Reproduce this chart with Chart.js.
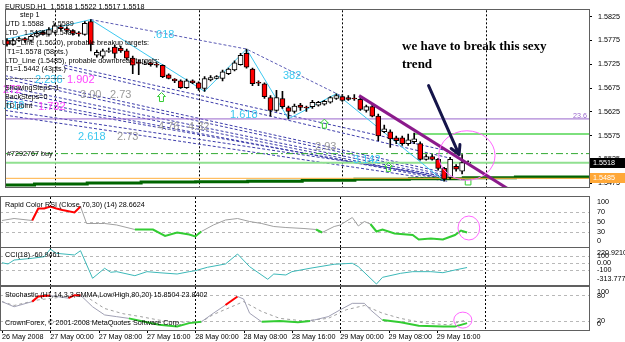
<!DOCTYPE html>
<html>
<head>
<meta charset="utf-8">
<script src="https://cdn.jsdelivr.net/npm/chart.js@4.4.1/dist/chart.umd.min.js"></script>
<style>
  html, body { margin: 0; padding: 0; background: #fff; }
  #wrap { position: relative; width: 625px; height: 342px; overflow: hidden; background: #fff; }
  #wrap canvas { position: absolute; left: 0; }
</style>
</head>
<body>
<div id="wrap">
  <canvas id="main" width="625" height="198" style="top:0px"></canvas>
  <canvas id="rsi" width="625" height="52" style="top:196px"></canvas>
  <canvas id="cci" width="625" height="39" style="top:247px"></canvas>
  <canvas id="sto" width="625" height="56" style="top:286px"></canvas>
</div>
<script>
const FAMILY = '"Liberation Sans", Arial, sans-serif';
const FONT = '7.2px ' + FAMILY;
const X_MIN = -0.33, X_MAX = 97.19;

// EURUSD H1 bars, 26 May 16:00 .. 29 May 21:00
const opens = [1.5775,1.5767,1.5775,1.5779,1.5775,1.5784,1.5792,1.5788,1.5792,1.5804,
  1.5800,1.5796,1.5790,1.5788,1.5815,1.5744,1.5742,1.5753,1.5761,1.5759,
  1.5753,1.5738,1.5728,1.5726,1.5728,1.5724,1.5723,1.5703,1.5694,1.5690,
  1.5676,1.5690,1.5686,1.5674,1.5692,1.5695,1.5695,1.5705,1.5713,1.5724,
  1.5748,1.5715,1.5686,1.5684,1.5655,1.5628,1.5653,1.5634,1.5626,1.5639,
  1.5634,1.5636,1.5639,1.5641,1.5645,1.5653,1.5657,1.5655,1.5653,1.5651,
  1.5628,1.5636,1.5616,1.5583,1.5583,1.5570,1.5570,1.5558,1.5562,1.5558,
  1.5525,1.5531,1.5525,1.5506,1.5487,1.5510,1.5500,1.5518];
const highs = [1.5779,1.5779,1.5782,1.5781,1.5786,1.5794,1.5796,1.5802,1.5810,1.5808,
  1.5804,1.5798,1.5794,1.5815,1.5819,1.5755,1.5757,1.5759,1.5765,1.5763,
  1.5757,1.5742,1.5734,1.5732,1.5730,1.5728,1.5724,1.5705,1.5695,1.5692,
  1.5694,1.5692,1.5688,1.5699,1.5701,1.5701,1.5713,1.5717,1.5732,1.5748,
  1.5757,1.5717,1.5690,1.5686,1.5659,1.5670,1.5668,1.5637,1.5641,1.5643,
  1.5637,1.5649,1.5647,1.5649,1.5657,1.5663,1.5661,1.5659,1.5661,1.5655,
  1.5639,1.5639,1.5620,1.5597,1.5587,1.5574,1.5574,1.5578,1.5580,1.5562,
  1.5535,1.5535,1.5527,1.5508,1.5529,1.5514,1.5535,1.5522];
const lows = [1.5763,1.5765,1.5773,1.5771,1.5773,1.5782,1.5786,1.5786,1.5790,1.5796,
  1.5792,1.5786,1.5784,1.5786,1.5753,1.5740,1.5738,1.5750,1.5738,1.5750,
  1.5734,1.5705,1.5703,1.5724,1.5721,1.5719,1.5697,1.5694,1.5686,1.5674,
  1.5674,1.5684,1.5670,1.5668,1.5690,1.5694,1.5690,1.5703,1.5711,1.5723,
  1.5717,1.5680,1.5680,1.5653,1.5616,1.5626,1.5632,1.5610,1.5622,1.5628,
  1.5626,1.5632,1.5637,1.5639,1.5643,1.5651,1.5647,1.5649,1.5649,1.5628,
  1.5624,1.5614,1.5564,1.5581,1.5550,1.5558,1.5554,1.5554,1.5558,1.5523,
  1.5523,1.5523,1.5502,1.5479,1.5483,1.5500,1.5494,1.5517];
const closes = [1.5767,1.5775,1.5779,1.5775,1.5784,1.5790,1.5788,1.5798,1.5806,1.5800,
  1.5796,1.5790,1.5788,1.5811,1.5767,1.5750,1.5753,1.5755,1.5748,1.5753,
  1.5738,1.5723,1.5726,1.5728,1.5724,1.5723,1.5699,1.5695,1.5690,1.5676,
  1.5690,1.5686,1.5674,1.5695,1.5697,1.5699,1.5709,1.5715,1.5728,1.5744,
  1.5719,1.5684,1.5684,1.5657,1.5628,1.5655,1.5636,1.5626,1.5637,1.5634,
  1.5632,1.5645,1.5645,1.5647,1.5655,1.5659,1.5649,1.5651,1.5651,1.5630,
  1.5636,1.5616,1.5574,1.5589,1.5568,1.5564,1.5558,1.5566,1.5568,1.5525,
  1.5531,1.5525,1.5506,1.5483,1.5525,1.5504,1.5518,1.5518];

const priceTicks = [1.5825, 1.5775, 1.5725, 1.5675, 1.5625, 1.5575, 1.5525, 1.5475];

// zigzag and drawn objects, in (bar, price)
const zigBars   = [-1, 14, 33, 40, 47, 55, 73];
const zigPrices = [1.5775, 1.5819, 1.5668, 1.5757, 1.5610, 1.5663, 1.5479];
const trendBars   = [58.8, 85.8];
const trendPrices = [1.5659, 1.5446];
const fanFromBar = -0.33, fanToBar = 73.5;
const fanFrom = [1.5701, 1.5694, 1.5678, 1.5670, 1.5657, 1.5649, 1.5628, 1.5618];
const fanTo   = [1.5496, 1.5491, 1.5487, 1.5483, 1.5481, 1.5485, 1.5489, 1.5479];
const fan2FromBar = 9.6;
const fan2From = [1.5723, 1.5717];
const fan2To   = [1.5543, 1.5529];
const stepBars   = [14, 40, 57];
const stepPrices = [1.5819, 1.5757, 1.5651];
const levelPrices = [1.5610, 1.5578, 1.5537, 1.5518, 1.5485];
const levelFrom   = [-1, 67.9, -1, -1, -1];
const supBars   = [-1, 4.6, 13.4, 22.4, 31.5, 40.2, 49.3, 58.1, 67.2, 76.2, 84.9, 100];
const supPrices = [1.5471, 1.5473, 1.5475, 1.5477, 1.5478, 1.5479, 1.5481, 1.5483, 1.5484, 1.5486, 1.5488, 1.5488];
const upArrowBars   = [25.8, 53, 63.7];
const upArrowPrices = [1.5655, 1.5599, 1.5508];
const markBars = [77], markPrices = [1.5477];
const arrowFrom = [70.4, 1.5680], arrowTo = [75.5, 1.5535];
const ringMain = [76.8, 1.5533, 4.7, 0.0052];

// indicators
const rsiBars = [0,2,5,6,7,8,9,10,12,13,14,16,17,19,22,25,27,29,31,32,33,35,37,39,41,43,45,47,50,52,53,55,56,58,59,60,61,62,63,65,68,69,71,73,75,76,77];
const rsiValues = [53,57,53,77,77,81,77,74,69,81,47,47,47,44,35,35,22,29,25,21,31,44,54,57,51,47,41,39,37,35,29,41,44,59,42,51,46,31,35,27,24,15,17,15,24,33,29];
const cciBars = [0,1,2,5,7,8,9,12,13,15,17,18,19,22,24,26,29,31,32,34,37,39,41,44,45,47,48,51,55,58,59,62,63,66,68,71,73,75,77];
const cciValues = [8,-10,47,72,95,205,144,120,182,-217,-72,-130,-121,-179,-121,-136,-155,-121,-107,-58,-10,134,-49,-231,-155,-169,-121,-72,-14,0,-49,-300,-203,-145,-121,-121,-136,-97,-61];
const stoBars = [0,2,5,6,8,11,12,13,15,17,19,21,24,26,29,31,33,35,37,39,40,41,43,46,49,51,54,56,58,60,61,63,66,69,73,75,76,77];
const stoMain = [66,54,66,78,80,74,81,81,54,35,31,27,18,12,8,16,19,39,58,78,72,39,19,21,18,21,31,47,62,62,47,23,18,10,8,8,12,16];
const sigBars = [0,2,6,12,14,17,20,23,26,29,33,35,40,43,46,50,54,57,60,63,66,70,74,77];
const sigValues = [66,57,70,80,77,50,38,31,23,18,19,36,66,43,27,21,27,47,57,39,27,16,12,24];

const dateBars = [0, 8, 16, 24, 32, 40, 48, 56, 64, 72];
const dateLabels = ['26 May 2008', '27 May 00:00', '27 May 08:00', '27 May 16:00', '28 May 00:00',
  '28 May 08:00', '28 May 16:00', '29 May 00:00', '29 May 08:00', '29 May 16:00'];
const dayBars = [8, 32, 56, 80];

const pts = (bars, vals) => bars.map((b, i) => ({x: b, y: vals[i]}));
const line = (data, color, width, extra) => Object.assign(
  {type: 'line', data, borderColor: color, borderWidth: width, pointRadius: 0, fill: false, tension: 0}, extra || {});

// pane border, day separators and time ticks
const frame = {
  id: 'frame',
  beforeDatasetsDraw(chart) {
    const {ctx, chartArea: a, scales: {x}} = chart;
    ctx.save();
    ctx.strokeStyle = '#000';
    ctx.lineWidth = 1;
    ctx.setLineDash([2, 2]);
    ctx.beginPath();
    dayBars.forEach(b => {
      const px = Math.round(x.getPixelForValue(b)) + 0.5;
      ctx.moveTo(px, a.top);
      ctx.lineTo(px, a.bottom);
    });
    ctx.stroke();
    ctx.restore();
  },
  afterDraw(chart) {
    const {ctx, chartArea: a, scales: {x}} = chart;
    ctx.save();
    ctx.strokeStyle = '#606060';
    ctx.lineWidth = 1;
    ctx.strokeRect(Math.round(a.left) + 0.5, Math.round(a.top) - 0.5,
      Math.round(a.right - a.left), Math.round(a.bottom - a.top) + 1);
    if (x.options.ticks.display) {
      ctx.strokeStyle = '#000';
      ctx.beginPath();
      dateBars.forEach(b => {
        const px = Math.round(x.getPixelForValue(b)) + 0.5;
        ctx.moveTo(px, a.bottom + 1);
        ctx.lineTo(px, a.bottom + 3);
      });
      ctx.stroke();
    }
    ctx.restore();
  }
};

function xAxis(bottom) {
  return {
    type: 'linear', min: X_MIN, max: X_MAX, offset: false,
    afterBuildTicks: s => { s.ticks = (bottom ? dateBars : dayBars).map(v => ({value: v})); },
    afterFit: s => { s.height = bottom ? 12 : 0; },
    grid: {display: false, offset: false, drawTicks: bottom, tickLength: 2},
    border: {display: false},
    ticks: {
      display: bottom, autoSkip: false, maxRotation: 0, align: 'start', padding: 1,
      color: '#000', font: {family: FAMILY, size: 7.2},
      callback: v => { const k = dateBars.indexOf(v); return k < 0 ? '' : dateLabels[k]; }
    }
  };
}

function levelAxis(min, max, levels) {
  return {
    position: 'right', min, max,
    afterBuildTicks: s => { s.ticks = levels.map(v => ({value: v})); },
    afterFit: s => { s.width = 36; },
    grid: {color: '#b8b8b8', drawTicks: false},
    border: {display: false, dash: [3, 3]},
    ticks: {display: false}
  };
}

function txt(ctx, t, x, y, color, font, align) {
  ctx.font = font || FONT;
  ctx.fillStyle = color || '#000';
  ctx.textAlign = align || 'left';
  ctx.textBaseline = 'middle';
  ctx.fillText(t, x, y);
}

const mainDecor = {
  id: 'mainDecor',
  afterDatasetsDraw(chart) {
    const {ctx, chartArea: a, scales: {x, y}} = chart;
    const px = b => x.getPixelForValue(b), py = v => y.getPixelForValue(v);
    ctx.save();
    ctx.beginPath();
    ctx.rect(a.left, a.top, a.right - a.left, a.bottom - a.top);
    ctx.clip();

    // green up arrows
    ctx.strokeStyle = '#33cc33';
    ctx.lineWidth = 1;
    upArrowBars.forEach((b, k) => {
      const cx = px(b), cy = py(upArrowPrices[k]);
      ctx.beginPath();
      ctx.moveTo(cx, cy - 5); ctx.lineTo(cx + 4, cy - 1); ctx.lineTo(cx + 2, cy - 1);
      ctx.lineTo(cx + 2, cy + 4); ctx.lineTo(cx - 2, cy + 4); ctx.lineTo(cx - 2, cy - 1);
      ctx.lineTo(cx - 4, cy - 1); ctx.closePath();
      ctx.stroke();
    });

    // ring
    ctx.strokeStyle = '#ff66ff';
    ctx.beginPath();
    ctx.ellipse(px(ringMain[0]), py(ringMain[1]),
      px(ringMain[0] + ringMain[2]) - px(ringMain[0]),
      py(ringMain[1] - ringMain[3]) - py(ringMain[1]), 0, 0, Math.PI * 2);
    ctx.stroke();

    // arrow
    const p0 = [px(arrowFrom[0]), py(arrowFrom[1])], p1 = [px(arrowTo[0]), py(arrowTo[1])];
    const ang = Math.atan2(p1[1] - p0[1], p1[0] - p0[0]);
    ctx.strokeStyle = '#15154a';
    ctx.lineWidth = 3;
    ctx.lineCap = 'round';
    ctx.beginPath();
    ctx.moveTo(p0[0], p0[1]); ctx.lineTo(p1[0], p1[1]);
    [-1, 1].forEach(s => {
      ctx.moveTo(p1[0], p1[1]);
      ctx.lineTo(p1[0] - 10 * Math.cos(ang + s * 0.5), p1[1] - 10 * Math.sin(ang + s * 0.5));
    });
    ctx.stroke();
    ctx.restore();

    ctx.save();
    const cyan = '#3cc8f0', mag = '#ff44ff', grey = '#9a9a9a', big = '11px ' + FAMILY;
    [['.618', 153, 35], ['382', 283, 76], ['2.236', 35, 80], ['1.618', 230, 115],
     ['2.618', 78, 137], ['3.142', 353, 160], ['.618', 3, 106]].forEach(t => txt(ctx, t[0], t[1], t[2], cyan, big));
    [['1.902', 67, 80], ['1.732', 38, 107], ['272', 3, 90]].forEach(t => txt(ctx, t[0], t[1], t[2], mag, big));
    [['3.00', 80, 95], ['2.73', 110, 95], ['2.73', 117, 137], ['4.76', 158, 127], ['4.32', 188, 127],
     ['2.93', 315, 147]].forEach(t => txt(ctx, t[0], t[1], t[2], grey, big));
    [['EURUSD,H1  1.5518 1.5522 1.5517 1.5518', 5, 7], ['step 1', 20, 15],
     ['UTD 1.5588    1.5589', 5, 24], ['LTD   1.5484||  1.5485', 5, 33],
     ['UTD_Line (1.5620), probable breakup targets:', 2, 43], ['T1=1.5578 (58pts.)', 7, 52],
     ['LTD_Line (1.5485), probable downbreak targets:', 5, 61], ['T1=1.5442 (43pts.)', 5, 69],
     ['-------------------------', 5, 78], ['ShowingSteps=1', 5, 88], ['BackSteps=0', 5, 97],
     ['TD point', 5, 106], ['#7292767 buy', 7, 154]].forEach(t => txt(ctx, t[0], t[1], t[2], '#000'));
    txt(ctx, '23.6', 587, 116, '#9966cc', FONT, 'right');
    const serif = 'bold 13px "Liberation Serif", serif';
    txt(ctx, 'we have to break this sexy', 402, 47, '#000', serif);
    txt(ctx, 'trend', 402, 65, '#000', serif);
    ctx.restore();
  },
  afterDraw(chart) {
    const {ctx, chartArea: a, scales: {y}} = chart;
    ctx.save();
    [[1.5518, '#000000'], [1.5485, '#ffa838']].forEach(([v, bg]) => {
      const yy = Math.round(y.getPixelForValue(v));
      ctx.fillStyle = bg;
      ctx.fillRect(a.right + 1, yy - 5, 35, 10);
      txt(ctx, v.toFixed(4), a.right + 4, yy, '#fff');
    });
    ctx.restore();
  }
};

const panel = {
  id: 'panel',
  afterDraw(chart, args, opts) {
    const {ctx, chartArea: a, scales: {x, y}} = chart;
    ctx.save();
    (opts.labels || []).forEach(([v, t]) => {
      const yy = Math.min(Math.max(y.getPixelForValue(v), a.top + 5), a.bottom - 6);
      txt(ctx, t, a.right + 8, yy, '#000');
    });
    (opts.titles || []).forEach(([t, tx, ty]) => txt(ctx, t, tx, ty, '#000'));
    if (opts.ring) {
      const [b, v, rb, rv] = opts.ring;
      ctx.strokeStyle = '#ff66ff';
      ctx.lineWidth = 1;
      ctx.beginPath();
      ctx.ellipse(x.getPixelForValue(b), y.getPixelForValue(v),
        x.getPixelForValue(b + rb) - x.getPixelForValue(b),
        y.getPixelForValue(v - rv) - y.getPixelForValue(v), 0, 0, Math.PI * 2);
      ctx.stroke();
    }
    ctx.restore();
  }
};

const base = {
  responsive: false, animation: false, devicePixelRatio: 1,
  elements: {point: {radius: 0}}
};

// ---- main price chart ----
const mainSets = [
  line(pts(trendBars, trendPrices), '#8b1a8b', 3, {order: 0}),
  {type: 'bar', order: 1, grouped: false, barThickness: 5, borderSkipped: false,
   data: opens.map((o, i) => ({x: i, y: Math.abs(closes[i] - o) < 0.0002 ? [o - 0.0001, o + 0.0001] : [o, closes[i]]})),
   backgroundColor: opens.map((o, i) => closes[i] < o ? '#ff0000' : '#ffffff'),
   borderColor: '#000', borderWidth: 1},
  {type: 'bar', order: 2, grouped: false, barThickness: 1,
   data: opens.map((_, i) => ({x: i, y: [lows[i], highs[i]]})),
   backgroundColor: '#000', borderWidth: 0},
  line(pts(markBars, markPrices), '#33cc33', 1, {order: 1, showLine: false, pointRadius: 4,
    pointStyle: 'rect', pointBorderColor: '#33cc33', pointBackgroundColor: 'rgba(0,0,0,0)'}),
  line(pts(zigBars, zigPrices), '#3cc8f0', 1, {order: 3})
];
const levelStyles = [
  {color: '#9966cc', width: 1},
  {color: '#7de07d', width: 2},
  {color: '#33aa33', width: 1, dash: [7, 3, 2, 3]},
  {color: '#90e090', width: 2},
  {color: '#ffb040', width: 1}
];
levelPrices.forEach((v, k) => {
  const s = levelStyles[k];
  mainSets.push(line([{x: levelFrom[k], y: v}, {x: 100, y: v}], s.color, s.width,
    {order: 4, borderDash: s.dash || []}));
});
mainSets.push(line(pts(supBars, supPrices), '#006400', 3, {order: 4, stepped: true}));
fanFrom.forEach((v, k) => mainSets.push(line([{x: fanFromBar, y: v}, {x: fanToBar, y: fanTo[k]}],
  '#3c3caa', 1, {order: 5, borderDash: [3, 2]})));
fan2From.forEach((v, k) => mainSets.push(line([{x: fan2FromBar, y: v}, {x: fanToBar, y: fan2To[k]}],
  '#3c3caa', 1, {order: 5, borderDash: [3, 2]})));
mainSets.push(line(pts(stepBars, stepPrices), '#5a5ab4', 1, {order: 5, borderDash: [3, 2]}));

new Chart(document.getElementById('main'), {
  type: 'bar',
  data: {datasets: mainSets},
  options: Object.assign({}, base, {
    layout: {padding: {top: 3, bottom: 2, left: 0, right: 0}},
    plugins: {legend: {display: false}, tooltip: {enabled: false}},
    scales: {
      x: xAxis(false),
      y: {
        position: 'right', min: 1.54653, max: 1.58385,
        afterBuildTicks: s => { s.ticks = priceTicks.map(v => ({value: v})); },
        afterFit: s => { s.width = 36; },
        grid: {drawOnChartArea: false, drawTicks: true, tickLength: 3, tickColor: '#000'},
        border: {display: false},
        ticks: {color: '#000', font: {family: FAMILY, size: 7.2}, padding: 6, callback: v => v.toFixed(4)}
      }
    }
  }),
  plugins: [frame, mainDecor]
});

// ---- indicator panes ----
const rsiColor = c => {
  const a = c.p0.parsed.y, b = c.p1.parsed.y;
  if (b >= 68) return '#ff0000';
  if (Math.max(a, b) <= 36 || b <= 31) return '#33cc33';
  return '#a0a0a0';
};
new Chart(document.getElementById('rsi'), {
  type: 'line',
  data: {datasets: [line(pts(rsiBars, rsiValues), '#a0a0a0', 1, {
    segment: {borderColor: rsiColor, borderWidth: c => rsiColor(c) === '#a0a0a0' ? 1 : 2}})]},
  options: Object.assign({}, base, {
    layout: {padding: {top: 1, bottom: 1}},
    plugins: {legend: {display: false}, tooltip: {enabled: false},
      panel: {labels: [[100, '100'], [70, '70'], [50, '50'], [30, '30'], [0, '0']],
              titles: [['Rapid Color RSI (Close,70,30) (14) 28.6624', 5, 9]],
              ring: [77.3, 38, 1.8, 24]}},
    scales: {x: xAxis(false), y: levelAxis(0, 100, [70, 50, 30])}
  }),
  plugins: [frame, panel]
});

new Chart(document.getElementById('cci'), {
  type: 'line',
  data: {datasets: [line(pts(cciBars, cciValues), '#3cb8b8', 1)]},
  options: Object.assign({}, base, {
    layout: {padding: {top: 1, bottom: 1}},
    plugins: {legend: {display: false}, tooltip: {enabled: false},
      panel: {labels: [[220.921, '220.9210'], [100, '100'], [0, '0.00'], [-100, '-100'], [-313.777, '-313.777']],
              titles: [['CCI(18) -60.9461', 5, 8]]}},
    scales: {x: xAxis(false), y: levelAxis(-313.777, 220.921, [100, 0, -100])}
  }),
  plugins: [frame, panel]
});

const stoColor = c => {
  const a = c.p0.parsed.y, b = c.p1.parsed.y;
  if (b >= 78) return '#ff0000';
  if (Math.max(a, b) <= 30) return '#33cc33';
  return '#a0a0b4';
};
new Chart(document.getElementById('sto'), {
  type: 'line',
  data: {datasets: [
    line(pts(stoBars, stoMain), '#a0a0b4', 1, {
      segment: {borderColor: stoColor, borderWidth: c => stoColor(c) === '#a0a0b4' ? 1 : 2}}),
    line(pts(sigBars, sigValues), '#a0a0a0', 1, {borderDash: [3, 3]})
  ]},
  options: Object.assign({}, base, {
    layout: {padding: {top: 1, bottom: 0}},
    plugins: {legend: {display: false}, tooltip: {enabled: false},
      panel: {labels: [[100, '100'], [80, '80'], [20, '20'], [0, '0']],
              titles: [['Stochastic (H1,14,3,3,SMMA,Low/High,80,20) 15.8504 23.8402', 5, 9],
                       ['CrownForex, \u00a9 2001-2008 MetaQuotes Software Corp.', 5, 37]],
              ring: [76.3, 23, 1.5, 18.6]}},
    scales: {x: xAxis(true), y: levelAxis(0, 100, [80, 20])}
  }),
  plugins: [frame, panel]
});
</script>
</body>
</html>
